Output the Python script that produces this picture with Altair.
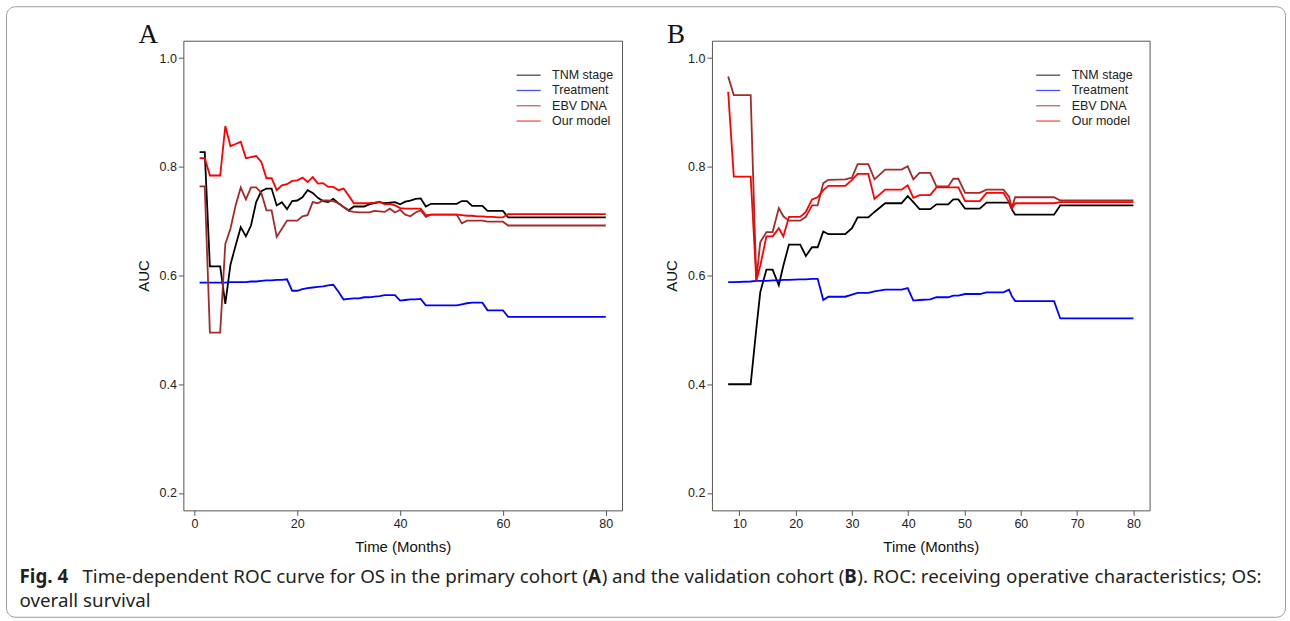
import altair as alt
import pandas as pd

series_names = ["TNM stage", "Treatment", "EBV DNA", "Our model"]
series_colors = ["#000000", "#0000FF", "#A52A2A", "#FF0000"]

# ---------------- Panel A (primary cohort) ----------------
time_a = list(range(1, 62)) + [80]
tnm_a = [0.827, 0.827, 0.617, 0.617, 0.617, 0.548, 0.620, 0.655, 0.689, 0.672,
         0.692, 0.735, 0.755, 0.760, 0.760, 0.729, 0.735, 0.722, 0.737, 0.738,
         0.744, 0.757, 0.752, 0.743, 0.737, 0.735, 0.741, 0.733, 0.726, 0.720,
         0.727, 0.727, 0.727, 0.731, 0.733, 0.735, 0.733, 0.734, 0.735, 0.731,
         0.736, 0.738, 0.741, 0.742, 0.727, 0.732, 0.732, 0.732, 0.732, 0.732,
         0.732, 0.737, 0.737, 0.728, 0.728, 0.728, 0.719, 0.719, 0.719, 0.719, 0.707,
         0.707]
treat_a = [0.587, 0.587, 0.587, 0.587, 0.587, 0.587, 0.588, 0.588, 0.588, 0.588,
           0.589, 0.589, 0.590, 0.591, 0.591, 0.592, 0.592, 0.593, 0.572, 0.572,
           0.575, 0.577, 0.578, 0.579, 0.580, 0.582, 0.583, 0.570, 0.556, 0.557,
           0.558, 0.558, 0.560, 0.560, 0.561, 0.562, 0.564, 0.564, 0.564, 0.554,
           0.555, 0.556, 0.556, 0.557, 0.545, 0.545, 0.545, 0.545, 0.545, 0.545,
           0.545, 0.547, 0.549, 0.550, 0.550, 0.550, 0.536, 0.536, 0.536, 0.536, 0.524,
           0.524]
ebv_a = [0.764, 0.764, 0.495, 0.495, 0.495, 0.658, 0.686, 0.729, 0.762, 0.740,
         0.762, 0.762, 0.752, 0.720, 0.720, 0.671, 0.686, 0.701, 0.701, 0.701,
         0.709, 0.711, 0.735, 0.733, 0.738, 0.738, 0.737, 0.733, 0.726, 0.719,
         0.717, 0.716, 0.716, 0.716, 0.719, 0.718, 0.717, 0.723, 0.716, 0.721,
         0.712, 0.709, 0.716, 0.720, 0.708, 0.712, 0.712, 0.712, 0.712, 0.712,
         0.712, 0.696, 0.701, 0.701, 0.701, 0.701, 0.699, 0.699, 0.699, 0.699, 0.692,
         0.692]
model_a = [0.816, 0.816, 0.784, 0.784, 0.784, 0.875, 0.838, 0.842, 0.846, 0.816,
           0.818, 0.820, 0.809, 0.779, 0.779, 0.757, 0.766, 0.768, 0.774, 0.775,
           0.780, 0.772, 0.781, 0.769, 0.770, 0.763, 0.763, 0.757, 0.760, 0.747,
           0.733, 0.733, 0.733, 0.733, 0.734, 0.736, 0.731, 0.732, 0.729, 0.724,
           0.723, 0.723, 0.723, 0.723, 0.711, 0.712, 0.712, 0.712, 0.712, 0.712,
           0.712, 0.711, 0.710, 0.710, 0.709, 0.709, 0.708, 0.708, 0.707, 0.707, 0.713,
           0.713]

# ---------------- Panel B (validation cohort) ----------------
time_b = [8, 9, 12, 13, 13.7, 14.8, 15.9, 17, 17.8, 18.8,
          20.8, 21.8, 22.9, 23.9, 24.9, 25.8, 28.8, 30, 31, 32.9,
          34, 35.9, 38.8, 39.9, 40.9, 42, 43.9, 45, 47.1, 48,
          48.9, 50.1, 52.7, 53.9, 56.9, 57.9, 58.4, 59, 65.9, 67, 80]
tnm_b = [0.400, 0.400, 0.400, 0.502, 0.569, 0.611, 0.611, 0.582, 0.618, 0.657,
         0.657, 0.636, 0.652, 0.652, 0.681, 0.676, 0.676, 0.687, 0.707, 0.707,
         0.717, 0.733, 0.733, 0.746, 0.735, 0.722, 0.722, 0.731, 0.731, 0.740,
         0.740, 0.723, 0.723, 0.734, 0.734, 0.734, 0.722, 0.712, 0.712, 0.729, 0.729]
treat_b = [0.588, 0.588, 0.589, 0.590, 0.590, 0.590, 0.591, 0.591, 0.592, 0.592,
           0.593, 0.593, 0.594, 0.594, 0.555, 0.561, 0.561, 0.565, 0.568, 0.568,
           0.571, 0.574, 0.574, 0.577, 0.554, 0.555, 0.556, 0.560, 0.560, 0.563,
           0.563, 0.566, 0.566, 0.569, 0.569, 0.574, 0.562, 0.553, 0.553, 0.521, 0.521]
ebv_b = [0.966, 0.932, 0.932, 0.591, 0.661, 0.680, 0.680, 0.724, 0.709, 0.701,
         0.701, 0.708, 0.729, 0.729, 0.770, 0.776, 0.777, 0.780, 0.805, 0.805,
         0.777, 0.795, 0.795, 0.801, 0.777, 0.789, 0.789, 0.764, 0.764, 0.778,
         0.778, 0.752, 0.752, 0.758, 0.758, 0.745, 0.725, 0.744, 0.744, 0.738, 0.738]
model_b = [0.938, 0.782, 0.782, 0.591, 0.618, 0.672, 0.672, 0.687, 0.672, 0.708,
           0.708, 0.717, 0.740, 0.744, 0.757, 0.765, 0.765, 0.776, 0.787, 0.787,
           0.741, 0.758, 0.758, 0.766, 0.743, 0.748, 0.748, 0.762, 0.762, 0.762,
           0.762, 0.737, 0.737, 0.752, 0.752, 0.735, 0.723, 0.733, 0.733, 0.735, 0.735]

y_ticks = [0.2, 0.4, 0.6, 0.8, 1.0]
x_ticks_a = [0, 20, 40, 60, 80]
x_ticks_b = [10, 20, 30, 40, 50, 60, 70, 80]

caption_label = "Fig. 4"
# words of the justified first caption line; each word is a list of (text, weight) runs
caption_words = [[("Time-dependent", "normal")], [("ROC", "normal")], [("curve", "normal")],
                 [("for", "normal")], [("OS", "normal")], [("in", "normal")],
                 [("the", "normal")], [("primary", "normal")], [("cohort", "normal")],
                 [("(", "normal"), ("A", "bold"), (")", "normal")], [("and", "normal")],
                 [("the", "normal")], [("validation", "normal")], [("cohort", "normal")],
                 [("(", "normal"), ("B", "bold"), (").", "normal")], [("ROC:", "normal")],
                 [("receiving", "normal")], [("operative", "normal")],
                 [("characteristics;", "normal")], [("OS:", "normal")]]
caption_line2 = "overall survival"

FONT = "Liberation Sans"
CAP_FONT = "Noto Sans"
CAP_SIZE = 18.8

# approximate advance widths (per 1000 em) of Noto Sans, used only to justify the caption line
W_REG = {' ': 260, 'a': 561, 'b': 615, 'c': 480, 'd': 615, 'e': 564, 'f': 344, 'g': 615,
         'h': 618, 'i': 258, 'j': 258, 'k': 536, 'l': 258, 'm': 938, 'n': 618, 'o': 605,
         'p': 615, 'q': 615, 'r': 413, 's': 479, 't': 361, 'u': 618, 'v': 508, 'w': 786,
         'x': 529, 'y': 510, 'z': 470, 'A': 639, 'B': 648, 'C': 631, 'O': 779, 'R': 618,
         'S': 548, 'T': 556, '(': 296, ')': 296, '.': 268, ':': 268, ';': 268, '-': 322}
W_BOLD = {'A': 725, 'B': 700}


def run_width(txt, weight):
    tbl = W_BOLD if weight == "bold" else W_REG
    return sum(tbl.get(ch, W_REG.get(ch, 560)) for ch in txt) * CAP_SIZE / 1000.0


def long_df(t, series):
    rows = []
    for name, vals in zip(series_names, series):
        for ti, v in zip(t, vals):
            rows.append({"time": ti, "auc": v, "series": name})
    return pd.DataFrame(rows)


def text_layer(txt, x, y, baseline="middle", **kw):
    return alt.Chart(pd.DataFrame({"t": [txt]})).mark_text(
        x=x, y=y, align="left", baseline=baseline, **kw
    ).encode(text="t:N")


def panel(t, series, xdom, xticks, letter, legx, width, extra=None):
    df = long_df(t, series)
    lines = alt.Chart(df).mark_line(strokeWidth=1.8).encode(
        x=alt.X("time:Q",
                scale=alt.Scale(domain=xdom, nice=False, zero=False),
                axis=alt.Axis(values=xticks, format="d", title="Time (Months)")),
        y=alt.Y("auc:Q",
                scale=alt.Scale(domain=[0.168, 1.032], nice=False, zero=False),
                axis=alt.Axis(values=y_ticks, format=".1f", title="AUC")),
        color=alt.Color("series:N",
                        scale=alt.Scale(domain=series_names, range=series_colors),
                        legend=alt.Legend(title=None, orient="none", legendX=legx, legendY=26,
                                          symbolType="M-1.6,0H1.6", symbolSize=225,
                                          symbolStrokeWidth=1.3, symbolOpacity=0.7,
                                          labelFont=FONT, labelFontSize=12.5,
                                          labelColor="#222", labelOffset=15,
                                          rowPadding=0.3, padding=0)),
    )
    lab = text_layer(letter, -45, 2, baseline="alphabetic", font="Liberation Serif",
                     fontSize=27, color="#111")
    layers = []
    if extra is not None:
        layers += extra
    layers += [lines, lab]
    return alt.layer(*layers).properties(width=width, height=470)


# decorative frame and caption live in panel A's coordinate frame (origin 183, 40)
ox, oy = 183, 40
frame = alt.Chart(pd.DataFrame({"k": [0]})).mark_rect(
    fill="transparent", stroke="#9a9a9a", strokeWidth=1, cornerRadius=9
).encode(x=alt.value(6 - ox), x2=alt.value(1286 - ox),
         y=alt.value(6 - oy), y2=alt.value(617 - oy))

cap_style = dict(font=CAP_FONT, fontSize=CAP_SIZE, color="#231f20")
cap_left = 19
caps = [text_layer(caption_label, cap_left - ox, 577 - oy, fontWeight="bold", **cap_style)]

line_start, line_end = 82, 1262
word_w = [sum(run_width(tx, w) for tx, w in word) for word in caption_words]
gap = (line_end - line_start - sum(word_w)) / (len(caption_words) - 1)
cx = line_start
for word, ww in zip(caption_words, word_w):
    rx = cx
    for tx, w in word:
        caps.append(text_layer(tx, rx - ox, 577 - oy, fontWeight=w, **cap_style))
        rx += run_width(tx, w)
    cx += ww + gap
caps.append(text_layer(caption_line2, cap_left - ox, 601 - oy, **cap_style))

panel_a = panel(time_a, [tnm_a, treat_a, ebv_a, model_a], [-2.16, 83.16], x_ticks_a,
                "A", 337, 439, extra=[frame] + caps)
panel_b = panel(time_b, [tnm_b, treat_b, ebv_b, model_b], [5.12, 82.88], x_ticks_b,
                "B", 328, 438)

chart = alt.hconcat(panel_a, panel_b, spacing=90, bounds="flush").resolve_scale(
    x="independent", y="independent", color="independent"
).resolve_legend(color="independent").properties(
    padding={"left": 5.5, "top": 5.5, "right": 3.5, "bottom": 3.5},
    background="white",
).configure_view(
    stroke="#555", strokeWidth=1
).configure_axis(
    domain=False, grid=False, tickColor="#555", tickSize=5, tickWidth=1,
    labelFont=FONT, labelFontSize=12.5, labelColor="#222", labelPadding=2,
    titleFont=FONT, titleFontSize=15, titleFontWeight="normal", titleColor="#111",
).configure_axisX(titlePadding=10).configure_axisY(titlePadding=8, labelAngle=0)

chart.save("out.html", embed_options={"renderer": "svg", "actions": False})
